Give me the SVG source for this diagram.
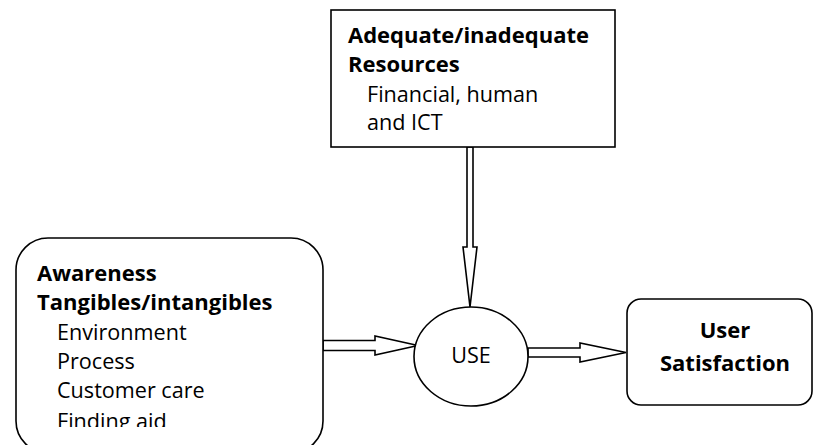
<svg xmlns="http://www.w3.org/2000/svg" width="814" height="445" viewBox="0 0 814 445">
<defs>
<style>
.box{fill:#fff;stroke:#000;stroke-width:1.6}
.arr{fill:#fff;stroke:#000;stroke-width:1.6;stroke-linejoin:miter}
.b{font-family:"Open Sans","Noto Sans",sans-serif;font-weight:bold;font-size:22px;fill:#000}
.r{font-family:"Open Sans","Noto Sans",sans-serif;font-size:21.6px;fill:#000}
</style>
<clipPath id="clipL"><rect x="15" y="238" width="310" height="189"/></clipPath>
</defs>
<rect width="814" height="445" fill="#fff"/>
<g id="connectors">
<polygon class="arr" points="467,147 473,147 473,247 477,247 470,307 463,247 467,247"/>
<polygon class="arr" points="323,340.5 375,340.5 375,336 418,345.5 375,355 375,350.5 323,350.5"/>
<polygon class="arr" points="528,348 580,348 580,343 626,352.5 580,362 580,357 528,357"/>
</g>
<g id="resources">
<rect class="box" x="331" y="10" width="284" height="137"/>
<text class="b" x="348" y="43">Adequate/inadequate</text>
<text class="b" x="348" y="72">Resources</text>
<text class="r" x="367" y="102">Financial, human</text>
<text class="r" x="367" y="130">and ICT</text>
</g>
<g id="awareness">
<rect class="box" x="16" y="238" width="307" height="215" rx="32"/>
<g clip-path="url(#clipL)">
<text class="b" x="37" y="281">Awareness</text>
<text class="b" x="37" y="310">Tangibles/intangibles</text>
<text class="r" x="57" y="340">Environment</text>
<text class="r" x="57" y="369">Process</text>
<text class="r" x="57" y="398">Customer care</text>
<text class="r" x="57" y="429">Finding aid</text>
</g>
</g>
<g id="use">
<ellipse class="box" cx="471" cy="356.5" rx="57" ry="49.5"/>
<text class="r" x="471" y="363" text-anchor="middle">USE</text>
</g>
<g id="satisfaction">
<rect class="box" x="627" y="299" width="185" height="106" rx="14"/>
<text class="b" x="725" y="338" text-anchor="middle">User</text>
<text class="b" x="725" y="371" text-anchor="middle">Satisfaction</text>
</g>
</svg>
